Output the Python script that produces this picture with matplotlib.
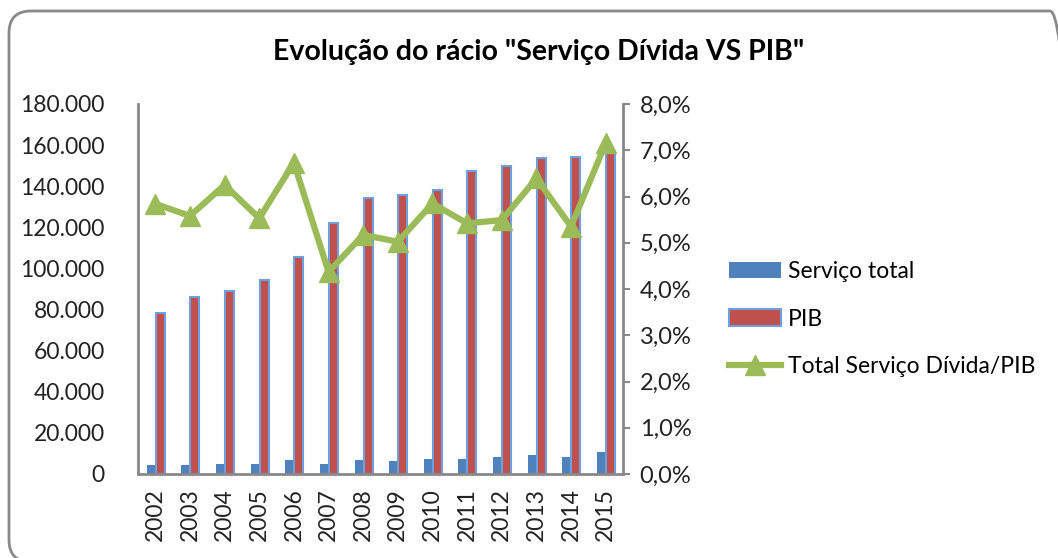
import numpy as np
import matplotlib
matplotlib.use("Agg")
import matplotlib.pyplot as plt
from matplotlib.patches import FancyBboxPatch
from matplotlib.ticker import FuncFormatter

years = ["2002", "2003", "2004", "2005", "2006", "2007", "2008",
         "2009", "2010", "2011", "2012", "2013", "2014", "2015"]
servico_total = [4500, 4500, 4900, 4900, 6600, 4900, 6600,
                 6100, 7300, 7300, 8100, 9300, 8100, 10500]
pib = [78500, 86300, 88900, 94400, 105700, 122000, 134500,
       135600, 138200, 147600, 150000, 153900, 154400, 156300]
ratio = [5.84, 5.58, 6.25, 5.53, 6.73, 4.37, 5.17,
         5.02, 5.85, 5.42, 5.49, 6.39, 5.35, 7.15]

BLUE = "#4F81BD"
RED = "#C0504D"
GREEN = "#9BBB59"
EDGE = "#6FA0DC"
GRAY = "#898989"

plt.rcParams["font.family"] = ["Lato", "DejaVu Sans"]

fig = plt.figure(figsize=(10.58, 5.58), dpi=100)

# rounded chart border (inches; runs past the right and bottom edges)
border = FancyBboxPatch((0.09, -0.04), 10.63, 5.51,
                        boxstyle="round,pad=0,rounding_size=0.22",
                        transform=fig.dpi_scale_trans, facecolor="none",
                        edgecolor=GRAY, linewidth=2)
fig.patches.append(border)

ax = fig.add_axes([138 / 1058, 1 - 474 / 558, (623 - 138) / 1058, 370 / 558])
x = np.arange(len(years))
w = 0.26
ax.bar(x - 0.12, servico_total, width=w, color=BLUE, label="Serviço total", zorder=2)
ax.bar(x + 0.14, pib, width=w, color=RED, edgecolor=EDGE, linewidth=1.5,
       label="PIB", zorder=2)
ax.set_xlim(-0.5, len(years) - 0.5)
ax.set_ylim(0, 180000)
ax.set_yticks(np.arange(0, 180001, 20000))
ax.yaxis.set_major_formatter(FuncFormatter(lambda v, p: f"{int(v):,}".replace(",", ".")))
ax.set_xticks(x)
ax.set_xticklabels(years, rotation=90)
ax.tick_params(axis="both", length=0, labelsize=16.5, colors="#222222")
ax.tick_params(axis="x", pad=10)
ax.tick_params(axis="y", pad=24)
for s in ["top", "right"]:
    ax.spines[s].set_visible(False)
for s in ["left", "bottom"]:
    ax.spines[s].set_color(GRAY)
    ax.spines[s].set_linewidth(2)

ax2 = ax.twinx()
ax2.plot(x, ratio, color=GREEN, linewidth=4.5, marker="^", markersize=15,
         label="Total Serviço Dívida/PIB", zorder=3)
ax2.set_ylim(0, 8)
ax2.set_yticks(np.arange(0, 8.01, 1))
ax2.yaxis.set_major_formatter(FuncFormatter(lambda v, p: f"{v:.1f}%".replace(".", ",")))
ax2.tick_params(axis="y", length=5, width=1.5, color=GRAY, labelsize=17,
                labelcolor="#222222", pad=7)
for s in ["top", "left", "bottom"]:
    ax2.spines[s].set_visible(False)
ax2.spines["right"].set_color(GRAY)
ax2.spines["right"].set_linewidth(2)

fig.text(539 / 1058, 1 - 52 / 558, 'Evolução do rácio "Serviço Dívida VS PIB"',
         ha="center", va="center", fontsize=20.5, fontweight="bold")

h1, l1 = ax.get_legend_handles_labels()
h2, l2 = ax2.get_legend_handles_labels()
fig.legend(h1 + h2, l1 + l2, loc="center left",
           bbox_to_anchor=(708 / 1058, 1 - 319 / 558), frameon=False,
           fontsize=16.5, handlelength=2.3, handleheight=0.7,
           labelspacing=1.15, handletextpad=0.3)

fig.savefig("out.png", dpi=100)
